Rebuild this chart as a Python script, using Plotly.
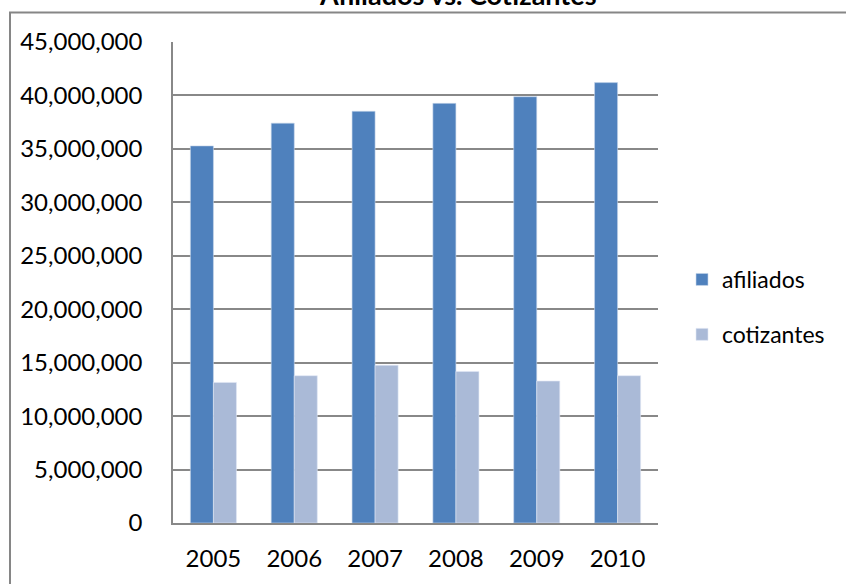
import plotly.graph_objects as go

# Datos por año
years = ["2005", "2006", "2007", "2008", "2009", "2010"]
afiliados = [35280000, 37410000, 38520000, 39260000, 39880000, 41200000]
cotizantes = [13150000, 13780000, 14750000, 14180000, 13280000, 13780000]

tick_vals = [0, 5000000, 10000000, 15000000, 20000000, 25000000,
             30000000, 35000000, 40000000, 45000000]
tick_text = ["0", "5,000,000", "10,000,000", "15,000,000", "20,000,000",
             "25,000,000", "30,000,000", "35,000,000", "40,000,000", "45,000,000"]

FONT = "Lato"
GRID = "#888888"

fig = go.Figure()
fig.add_trace(go.Bar(
    x=years, y=afiliados, name="afiliados",
    marker=dict(color="#4F81BD", line=dict(color="rgba(200,215,235,0.6)", width=1)),
    legendgroup="a",
))
fig.add_trace(go.Bar(
    x=years, y=cotizantes, name="cotizantes",
    marker=dict(color="#AABAD7", line=dict(color="rgba(225,232,245,0.6)", width=1)),
    legendgroup="c",
))

W, H = 846, 584
L, R, T, B = 173, 188, 42, 61
pw, ph = W - L - R, H - T - B


def px_x(p):
    return (p - L) / pw


def px_y(p):
    return 1 + (T - p) / ph


fig.update_layout(
    width=W, height=H,
    margin=dict(l=L, r=R, t=T, b=B, pad=0),
    paper_bgcolor="white", plot_bgcolor="white",
    font=dict(family=FONT, size=24, color="black"),
    barmode="group", bargap=0.43, bargroupgap=0,
    showlegend=True,
    legend=dict(
        x=px_x(682), y=px_y(258), xanchor="left", yanchor="top",
        font=dict(family=FONT, size=23, color="black"),
        traceorder="grouped", tracegroupgap=22,
        bgcolor="rgba(0,0,0,0)",
    ),
    xaxis=dict(
        type="category",
        showgrid=False, showline=True, linecolor=GRID, linewidth=1.5,
        ticks="", ticklabelstandoff=13,
        tickfont=dict(family=FONT, size=24, color="black"),
    ),
    yaxis=dict(
        range=[0, 45000000],
        tickvals=tick_vals, ticktext=tick_text,
        showgrid=True, gridcolor=GRID, gridwidth=1.5,
        showline=True, linecolor=GRID, linewidth=1.5,
        zeroline=False, ticks="", ticklabelstandoff=24,
        tickfont=dict(family=FONT, size=24, color="black"),
    ),
    annotations=[dict(
        text="<b>Afiliados vs. Cotizantes</b>",
        xref="paper", yref="paper",
        x=px_x(458), y=px_y(-5), xanchor="center", yanchor="middle",
        showarrow=False,
        font=dict(family=FONT, size=27, color="black"),
    )],
    shapes=[dict(
        type="rect", xref="paper", yref="paper",
        x0=px_x(10), y0=px_y(12.5), x1=px_x(880), y1=px_y(620),
        line=dict(color="#868686", width=2), fillcolor="rgba(0,0,0,0)",
        layer="below",
    )],
)

fig.write_html("out.html")
